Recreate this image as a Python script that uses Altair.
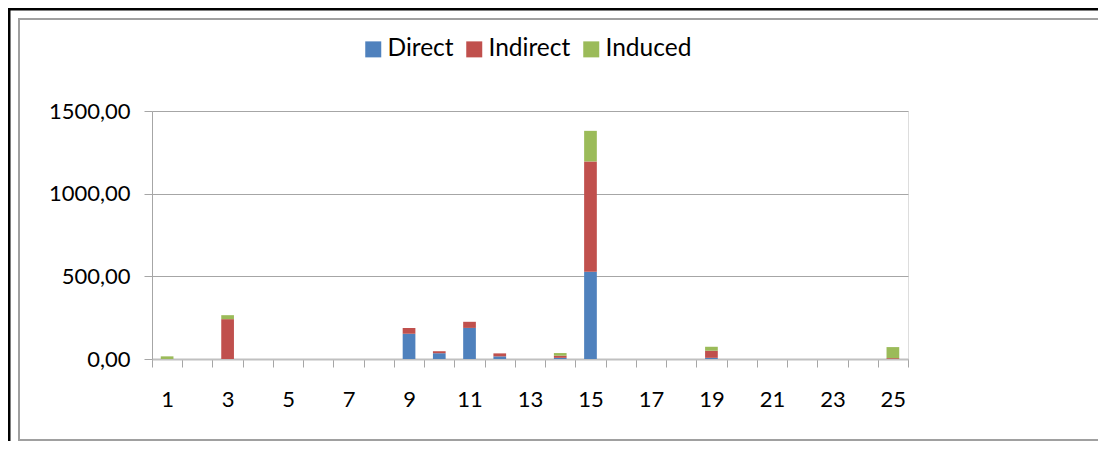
import altair as alt
import pandas as pd

categories = list(range(1, 26))
series = ["Direct", "Indirect", "Induced"]
colors = ["#4f81bd", "#c0504d", "#9bbb59"]

direct = [0, 0, 0, 0, 0, 0, 0, 0, 152, 35, 188, 16, 0, 7, 527, 0, 0, 0, 7, 0, 0, 0, 0, 0, 0]
indirect = [0, 0, 241, 0, 0, 0, 0, 0, 36, 12, 37, 18, 0, 13, 668, 0, 0, 0, 43, 0, 0, 0, 0, 0, 5]
induced = [16, 0, 24, 0, 0, 0, 0, 0, 0, 0, 0, 0, 0, 16, 185, 0, 0, 0, 24, 0, 0, 0, 0, 0, 67]

y_ticks = [0, 500, 1000, 1500]
x_boundaries = [c - 0.5 for c in categories] + [categories[-1] + 0.5]

rows = []
for name, vals in zip(series, [direct, indirect, induced]):
    for c, v in zip(categories, vals):
        rows.append({"cat": c, "series": name, "value": v, "idx": series.index(name)})
df = pd.DataFrame(rows)

FONT = "Lato"
GRAY = "#a6a6a6"
W, H = 756, 248
STEP = W / len(categories)

bars = alt.Chart(df).mark_bar(size=12.7).encode(
    x=alt.X("cat:Q", title=None,
            scale=alt.Scale(domain=[0.5, 25.5], nice=False, zero=False, padding=0),
            axis=alt.Axis(values=x_boundaries,
                          labelExpr="(datum.value + 0.5) % 2 == 1 ? format(datum.value + 0.5, 'd') : ''",
                          labelOffset=STEP / 2, labelFlush=False, labelOverlap=False,
                          labelFont=FONT, labelFontSize=22, labelColor="#000000",
                          labelPadding=22, tickSize=8, tickColor=GRAY,
                          domainColor="#c0c0c0", domainWidth=2, grid=False)),
    y=alt.Y("value:Q", title=None, stack="zero",
            scale=alt.Scale(domain=[0, 1500], nice=False),
            axis=alt.Axis(values=y_ticks,
                          labelExpr="replace(format(datum.value, '.2f'), '.', ',')",
                          labelFont=FONT, labelFontSize=22, labelColor="#000000",
                          labelPadding=14, tickSize=8, tickColor=GRAY,
                          domainColor=GRAY, gridColor=GRAY, grid=True)),
    color=alt.Color("series:N", scale=alt.Scale(domain=series, range=colors),
                    legend=alt.Legend(title=None, orient="none", legendX=209, legendY=-74,
                                      direction="horizontal", symbolType="square",
                                      symbolSize=256, symbolStrokeWidth=0,
                                      labelFont=FONT, labelFontSize=24.5, labelColor="#000000",
                                      labelOffset=2, columnPadding=8, padding=0)),
    order=alt.Order("idx:Q", sort="ascending"),
)

one = pd.DataFrame({"d": [0]})
frame = alt.Chart(one).mark_rect(fill=None, stroke="#a0a0a0", strokeWidth=2).encode(
    x=alt.value(-133), x2=alt.value(947), y=alt.value(-92), y2=alt.value(329)
)
top_line = alt.Chart(one).mark_rule(color="#000000", strokeWidth=3).encode(
    x=alt.value(-144), x2=alt.value(950), y=alt.value(-102)
)
left_line = alt.Chart(one).mark_rule(color="#000000", strokeWidth=3).encode(
    x=alt.value(-143), y=alt.value(-103), y2=alt.value(340)
)

chart = alt.layer(frame, top_line, left_line, bars).properties(
    width=W, height=H,
    autosize=alt.AutoSizeParams(type="none"),
    padding={"left": 144, "top": 103, "right": 190, "bottom": 82},
).configure_view(strokeWidth=0).configure(background="#ffffff")

chart.save("out.html", embed_options={"renderer": "svg", "actions": False})
